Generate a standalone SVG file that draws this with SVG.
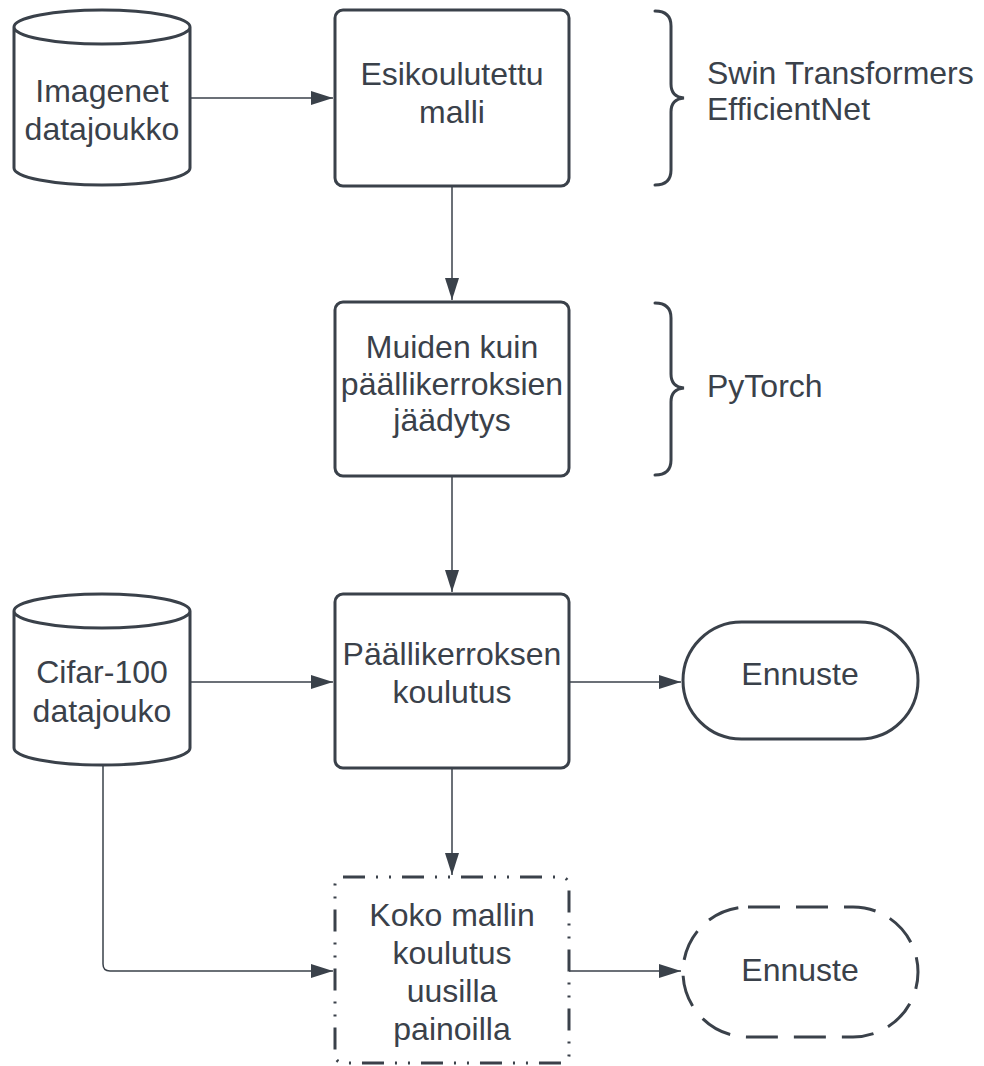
<svg xmlns="http://www.w3.org/2000/svg" width="984" height="1066" viewBox="0 0 984 1066">
  <style>
    .shape { fill: #ffffff; stroke: #3a414a; stroke-width: 3; }
    .brace { fill: none; stroke: #3a414a; stroke-width: 3; stroke-linecap: round; }
    .edge { fill: none; stroke: #3a414a; stroke-width: 1.5; }
    .label { font-family: "Liberation Sans", Arial, sans-serif; font-size: 32px; fill: #3a414a; text-anchor: middle; }
    .note { font-family: "Liberation Sans", Arial, sans-serif; font-size: 32px; fill: #3a414a; }
    .dashdot { stroke-dasharray: 22 11 2 11 2 11; }
    .dashed { stroke-dasharray: 32 16; }
  </style>
  <defs>
    <marker id="arrow" markerUnits="userSpaceOnUse" markerWidth="24" markerHeight="16" refX="22" refY="7" orient="auto">
      <path d="M0,0 L22,7 L0,14 Z" fill="#3a414a"/>
    </marker>
  </defs>

  <!-- connectors -->
  <g id="connectors">
    <path class="edge" d="M190,98 H333" marker-end="url(#arrow)"/>
    <path class="edge" d="M452,186 V300" marker-end="url(#arrow)"/>
    <path class="edge" d="M452,476 V592" marker-end="url(#arrow)"/>
    <path class="edge" d="M190,682 H333" marker-end="url(#arrow)"/>
    <path class="edge" d="M569,682 H681" marker-end="url(#arrow)"/>
    <path class="edge" d="M452,768 V875" marker-end="url(#arrow)"/>
    <path class="edge" d="M103,765 V964 Q103,971 110,971 H333" marker-end="url(#arrow)"/>
    <path class="edge" d="M569,971 H681" marker-end="url(#arrow)"/>
  </g>

  <!-- Imagenet dataset -->
  <g id="imagenet">
    <path class="shape" d="M14,27 V168 A88,17 0 0 0 190,168 V27 A88,17 0 0 0 14,27 A88,17 0 0 0 190,27"/>
    <text class="label" x="102" y="102">Imagenet</text>
    <text class="label" x="102" y="140">datajoukko</text>
  </g>

  <!-- pretrained model -->
  <g id="pretrained">
    <rect class="shape" x="335" y="10" width="234" height="176" rx="8"/>
    <text class="label" x="452" y="85">Esikoulutettu</text>
    <text class="label" x="452" y="123">malli</text>
  </g>

  <g id="brace-models">
    <path class="brace" d="M655,11 Q671,11 671,26 V84 Q671,97 684,98 Q671,99 671,112 V170 Q671,185 655,185"/>
    <text class="note" x="707" y="84">Swin Transformers</text>
    <text class="note" x="707" y="120">EfficientNet</text>
  </g>

  <!-- freezing -->
  <g id="freeze">
    <rect class="shape" x="335" y="302" width="234" height="174" rx="8"/>
    <text class="label" x="452" y="358">Muiden kuin</text>
    <text class="label" x="452" y="395">päällikerroksien</text>
    <text class="label" x="452" y="431">jäädytys</text>
  </g>

  <g id="brace-pytorch">
    <path class="brace" d="M655,303 Q671,303 671,318 V374 Q671,387 684,388 Q671,389 671,402 V460 Q671,475 655,475"/>
    <text class="note" x="707" y="397">PyTorch</text>
  </g>

  <!-- Cifar-100 dataset -->
  <g id="cifar">
    <path class="shape" d="M14,611 V748 A88,17 0 0 0 190,748 V611 A88,17 0 0 0 14,611 A88,17 0 0 0 190,611"/>
    <text class="label" x="102" y="683">Cifar-100</text>
    <text class="label" x="102" y="722">datajouko</text>
  </g>

  <!-- head training -->
  <g id="head-training">
    <rect class="shape" x="335" y="594" width="234" height="174" rx="8"/>
    <text class="label" x="452" y="665">Päällikerroksen</text>
    <text class="label" x="452" y="703">koulutus</text>
  </g>

  <g id="prediction-1">
    <rect class="shape" x="683" y="622" width="235" height="117" rx="58.5"/>
    <text class="label" x="800" y="685">Ennuste</text>
  </g>

  <!-- full model training -->
  <g id="full-training">
    <rect class="shape dashdot" x="335" y="877" width="234" height="186" rx="8"/>
    <text class="label" x="452" y="926">Koko mallin</text>
    <text class="label" x="452" y="964">koulutus</text>
    <text class="label" x="452" y="1002">uusilla</text>
    <text class="label" x="452" y="1040">painoilla</text>
  </g>

  <g id="prediction-2">
    <rect class="shape dashed" x="683" y="907" width="235" height="130" rx="65"/>
    <text class="label" x="800" y="981">Ennuste</text>
  </g>
</svg>
